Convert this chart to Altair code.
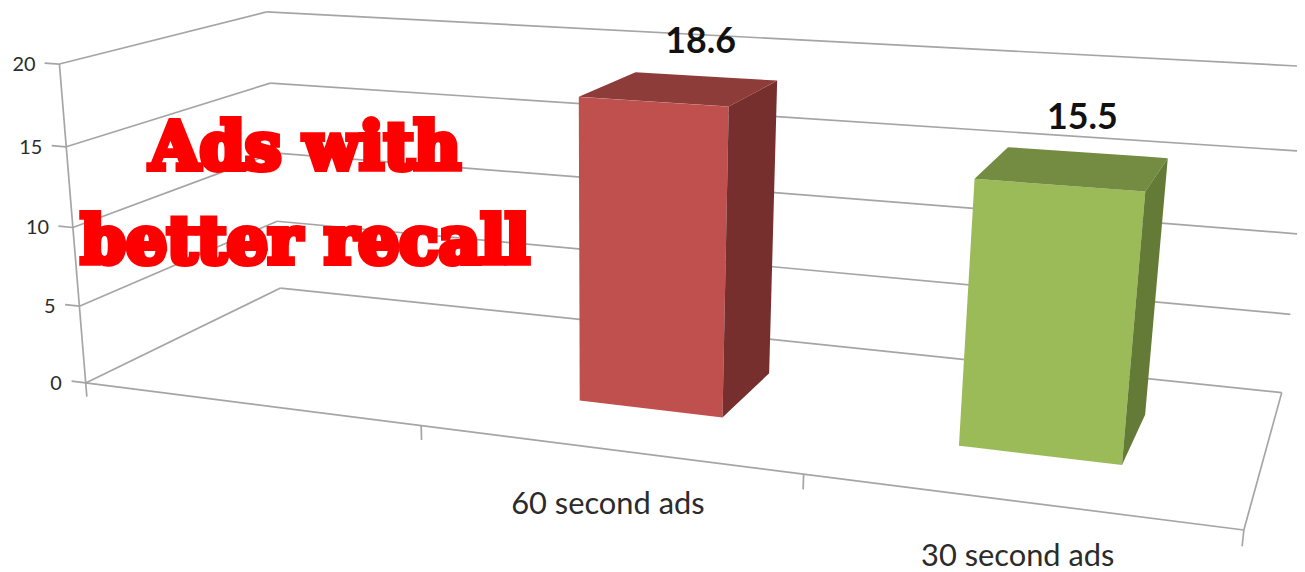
import numpy as np
import pandas as pd
import altair as alt

categories = ["", "60 second ads", "30 second ads"]
values = [None, 18.6, 15.5]
front_colors = [None, "#c0504d", "#9bbb59"]
top_colors = [None, "#8e3c39", "#748c42"]
side_colors = [None, "#772f2d", "#647b38"]
y_ticks = [0, 5, 10, 15, 20]
headline = ["Ads with", "better recall"]

# Perspective of the 3-D chart box: (category position, value, depth) -> picture
CAL_MODEL = [(0,0,0),(0,20,0),(0,0,1),(0,20,1),(3,0,0),(3,0,1),(3,20,1),(1,0,0),(2,0,0),(0,10,0),(3,10,1)]
CAL_PIC = [(88,382),(60,62),(282,288),(268,10),(1253,527),(1292,392),(1328,68),(423,432),(806,478),(73,225),(1303,233)]

A = []
for (X, Y, Z), (u, v) in zip(CAL_MODEL, CAL_PIC):
    A.append([X, Y, Z, 1, 0, 0, 0, 0, -u*X, -u*Y, -u*Z, -u])
    A.append([0, 0, 0, 0, X, Y, Z, 1, -v*X, -v*Y, -v*Z, -v])
P = np.linalg.svd(np.array(A, float))[2][-1].reshape(3, 4)

def proj(X, Y, Z):
    h = P @ np.array([X, Y, Z, 1.0])
    return float(h[0] / h[2]), float(h[1] / h[2])

def seg(a, b, group):
    pa, pb = proj(*a), proj(*b)
    return dict(x=pa[0], y=pa[1], x2=pb[0], y2=pb[1], group=group)

lines = []
for t in y_ticks:
    lines.append(seg((0, t, 0), (0, t, 1), "wall"))
    lines.append(seg((0, t, 1), (3, t, 1), "back"))
    lines.append(seg((-0.045, t, 0), (0, t, 0), "tick"))
lines.append(seg((0, 0, 0), (0, 20, 0), "axis"))
lines.append(seg((0, 0, 0), (3, 0, 0), "axis"))
lines.append(seg((3, 0, 0), (3, 0, 1), "axis"))
for i in range(4):
    lines.append(seg((i, 0, 0), (i, -0.9, 0), "tick"))
lines_df = pd.DataFrame(lines)

def poly_rows(pts):
    pts = [proj(*p) for p in pts]
    n = len(pts)
    rows = []
    for x in sorted(p[0] for p in pts):
        ys = []
        for i in range(n):
            (x0, y0), (x1, y1) = pts[i], pts[(i + 1) % n]
            lo, hi = min(x0, x1), max(x0, x1)
            if lo <= x <= hi and hi > lo:
                ys.append(y0 + (y1 - y0) * (x - x0) / (x1 - x0))
        rows.append(dict(x=x, y=min(ys), y2=max(ys)))
    return pd.DataFrame(rows)

xs = alt.Scale(domain=[8, 1305], range=[0, 1297], nice=False, zero=False)
ys = alt.Scale(domain=[8, 572], range=[0, 564], nice=False, zero=False)
X = alt.X("x:Q", scale=xs, axis=None)
Y = alt.Y("y:Q", scale=ys, axis=None, stack=None)

GAP_L, GAP_R = 0.298, 0.31
Z0, Z1 = 0.315, 0.70
faces = []
for i, v in enumerate(values):
    if v is None:
        continue
    a, b = i + GAP_L, i + 1 - GAP_R
    quads = [
        ([(a,0,Z0),(b,0,Z0),(b,v,Z0),(a,v,Z0)], front_colors[i]),
        ([(a,v,Z0),(b,v,Z0),(b,v,Z1),(a,v,Z1)], top_colors[i]),
        ([(b,0,Z0),(b,0,Z1),(b,v,Z1),(b,v,Z0)], side_colors[i]),
    ]
    for q, c in quads:
        faces.append(alt.Chart(poly_rows(q)).mark_area(color=c, interpolate="linear").encode(
            x=X, y=Y, y2="y2:Q"))

val_df = pd.DataFrame([
    dict(zip("xy", proj(i + 0.5, v, Z1)), t=f"{v}")
    for i, v in enumerate(values) if v is not None
])
cat_df = pd.DataFrame([
    dict(zip("xy", proj(i + 0.5, 0, 0)), t=c) for i, c in enumerate(categories) if c
])
tick_df = pd.DataFrame([dict(zip("xy", proj(0, t, 0)), t=str(t)) for t in y_ticks])
head_df = pd.DataFrame([
    dict(x=307, y=168, t=headline[0]),
    dict(x=307, y=263, t=headline[1]),
])

rules = alt.Chart(lines_df).mark_rule(color="#a0a0a0", strokeWidth=1.7, clip=True, opacity=0.95).encode(
    x=X, y=Y, x2="x2:Q", y2="y2:Q")
val_text = alt.Chart(val_df).mark_text(font="Lato", fontWeight="bold", fontSize=36, color="#111111", dx=-7, dy=-35).encode(
    x=X, y=Y, text="t:N")
cat_text = alt.Chart(cat_df).mark_text(font="Lato", fontSize=31, color="#2b2b2b", dx=2, dy=56).encode(
    x=X, y=Y, text="t:N")
tick_text = alt.Chart(tick_df).mark_text(font="Lato", fontSize=20, color="#2b2b2b", align="right", dx=-24, dy=1).encode(
    x=X, y=Y, text="t:N")
head_text = alt.Chart(head_df).mark_text(
    font="DejaVu Serif", fontWeight="bold", fontSize=65, color="#ff0000", stroke="#ff0000",
    strokeWidth=6, baseline="alphabetic", strokeJoin="miter").encode(x=X, y=Y, text="t:N")

chart = alt.layer(rules, *faces, tick_text, cat_text, val_text, head_text).properties(
    width=1297, height=564, padding=0, autosize=alt.AutoSizeParams(type="none"),
    background="#ffffff",
).configure_view(stroke=None)
chart.save("out.html", embed_options={"renderer": "svg", "actions": False})
